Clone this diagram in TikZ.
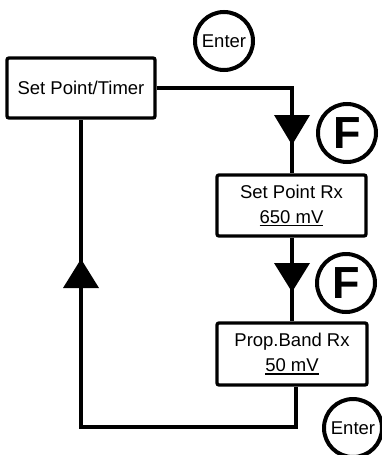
\documentclass[tikz,border=0pt]{standalone}
\usepackage{fontspec}
\setmainfont{Liberation Sans}
\newcommand\myul[1]{\sbox0{#1}\rlap{\usebox0}\rule[-3pt]{\wd0}{1.3pt}}
\begin{document}
\begin{tikzpicture}[x=1pt,y=-1pt,
  box/.style={draw, line width=3.3pt, rounded corners=2pt, minimum width=148pt, minimum height=60pt, inner sep=0pt, align=center, font=\fontsize{18.5}{25}\selectfont},
  key/.style={draw, circle, line width=4pt, inner sep=0pt, minimum size=58pt},
  enterkey/.style={key, font=\fontsize{18.5}{20}\selectfont},
  fkey/.style={key, font=\fontsize{45}{45}\selectfont\bfseries},
  link/.style={line width=3.3pt},
  tri/.style={fill=black}]
\useasboundingbox (0,0) rectangle (382,455);
\fill[white] (0,0) rectangle (382,455);
\node[box] (A) at (81,88) {Set Point/Timer};
\node[box, minimum width=149pt, minimum height=61pt] (B) at (291.5,205.5) {Set Point Rx\\\myul{650 mV}};
\node[box, minimum width=150pt, minimum height=62pt] (C) at (292,354) {Prop.Band Rx\\\myul{50 mV}};
\node[enterkey] (E1) at (224,41) {Enter};
\node[fkey] (F1) at (347,133) {F};
\node[fkey] (F2) at (346,283) {F};
\node[enterkey] (E2) at (353,428) {Enter};
\coordinate (c1) at (292,88);
\coordinate (c2) at (296,427);
\coordinate (c3) at (81,427);
\draw[link] (A.east) -- (c1) -- (B.north -| c1);
\draw[link] (B.south -| c1) -- (C.north -| c1);
\draw[link] (C.south -| c2) -- (c2) -- (c3) -- (A.south);
\fill[tri] (274,115) -- (310,115) -- (292,145) -- cycle;
\fill[tri] (274,263) -- (310,263) -- (292,292) -- cycle;
\fill[tri] (63,288) -- (99,288) -- (81,259) -- cycle;
\end{tikzpicture}
\end{document}
